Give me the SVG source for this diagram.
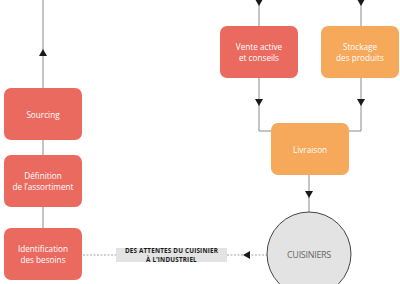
<svg xmlns="http://www.w3.org/2000/svg" width="400" height="284" viewBox="0 0 400 284">
<style>
.red{fill:#EB6A5F}
.org{fill:#F6A85B}
.lbl{font-family:"Open Sans","Liberation Sans",sans-serif;font-size:8.2px;fill:#fff;text-anchor:middle}
.ln{stroke:#8a8a8a;stroke-width:1;fill:none}
.dash{stroke:#8a8a8a;stroke-width:0.8;fill:none;stroke-dasharray:2 1.5}
.ar{fill:#1a1a1a}
.tag{font-family:"Open Sans","Liberation Sans",sans-serif;font-size:6.3px;font-weight:bold;fill:#1a1a1a;text-anchor:middle}
</style>
<defs>
<path id="down" d="M-4,-7 L4,-7 L0,0 Z"/>
</defs>
<g id="connectors">
<line class="ln" x1="43" y1="0" x2="43" y2="88"/>
<use href="#down" class="ar" transform="translate(43,49) rotate(180)"/>
<line class="ln" x1="43" y1="140" x2="43" y2="155"/>
<line class="ln" x1="43" y1="207" x2="43" y2="228"/>
<line class="ln" x1="259" y1="0" x2="259" y2="26"/>
<use href="#down" class="ar" transform="translate(259,6)"/>
<line class="ln" x1="361" y1="0" x2="361" y2="26"/>
<use href="#down" class="ar" transform="translate(361,6)"/>
<polyline class="ln" points="259,78 259,131 271,131"/>
<use href="#down" class="ar" transform="translate(259,106)"/>
<polyline class="ln" points="361,78 361,131 349,131"/>
<use href="#down" class="ar" transform="translate(361,106)"/>
<line class="ln" x1="309" y1="175" x2="309" y2="212"/>
<use href="#down" class="ar" transform="translate(309,198)"/>
<line class="dash" x1="83" y1="255" x2="116" y2="255"/>
<line class="dash" x1="227" y1="255" x2="267" y2="255"/>
<use href="#down" class="ar" transform="translate(243,255) rotate(90)"/>
</g>
<g id="sourcing">
<rect class="red" x="4" y="88" width="78" height="52" rx="7"/>
<text class="lbl" x="43" y="118">Sourcing</text>
</g>
<g id="definition">
<rect class="red" x="4" y="155" width="78" height="52" rx="7"/>
<text class="lbl" x="43" y="179">Définition</text>
<text class="lbl" x="43" y="190">de l’assortiment</text>
</g>
<g id="identification">
<rect class="red" x="4" y="228" width="78" height="52" rx="7"/>
<text class="lbl" x="43" y="252">Identification</text>
<text class="lbl" x="43" y="263">des besoins</text>
</g>
<g id="vente">
<rect class="red" x="220" y="26" width="78" height="52" rx="7"/>
<text class="lbl" x="259" y="50">Vente active</text>
<text class="lbl" x="259" y="61">et conseils</text>
</g>
<g id="stockage">
<rect class="org" x="321" y="26" width="78" height="52" rx="7"/>
<text class="lbl" x="360" y="50">Stockage</text>
<text class="lbl" x="360" y="61">des produits</text>
</g>
<g id="livraison">
<rect class="org" x="271" y="123" width="78" height="52" rx="7"/>
<text class="lbl" x="310" y="153">Livraison</text>
</g>
<g id="cuisiniers">
<circle cx="309" cy="254" r="42" fill="#E3E3E3" stroke="#444" stroke-width="1"/>
<text x="309" y="258" font-family="'Open Sans','Liberation Sans',sans-serif" font-size="9px" fill="#666" text-anchor="middle" letter-spacing="-0.3">CUISINIERS</text>
</g>
<g id="label">
<rect x="116" y="248" width="111" height="14" fill="#E3E3E3"/>
<text class="tag" x="171.5" y="253.3" letter-spacing="0.2">DES ATTENTES DU CUISINIER</text>
<text class="tag" x="171.5" y="261.9" letter-spacing="0.2">À L’INDUSTRIEL</text>
</g>
</svg>
